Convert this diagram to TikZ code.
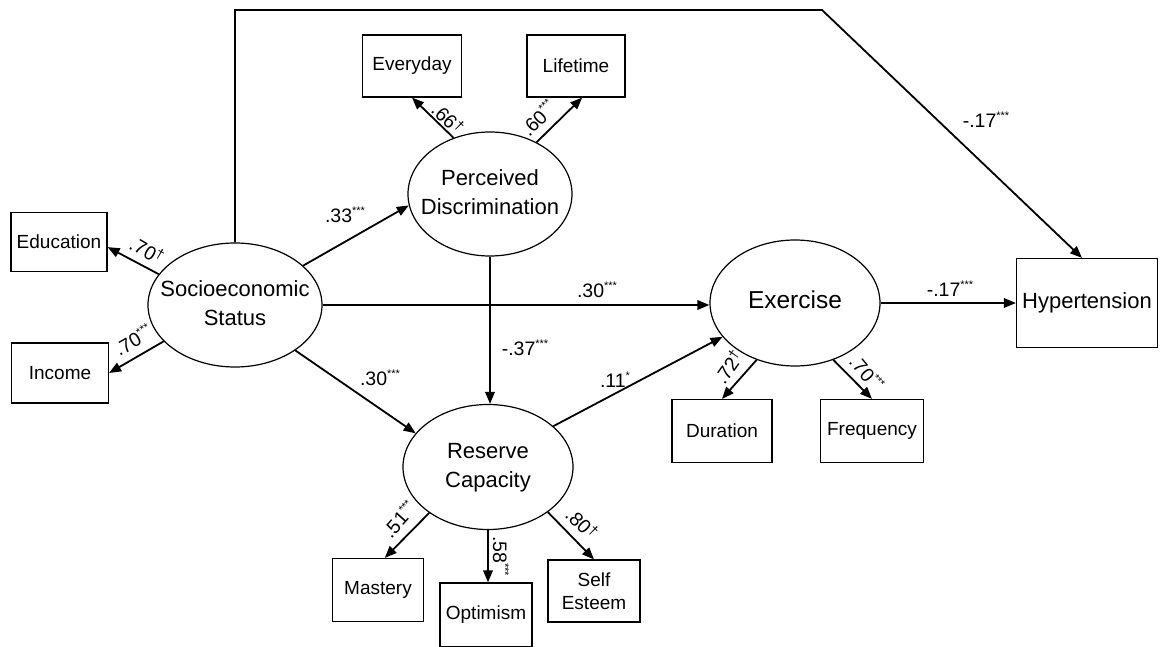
\documentclass[tikz,border=0pt]{standalone}
\usepackage{fontspec}
\setmainfont{Liberation Sans}
\usetikzlibrary{shapes.geometric,arrows.meta}
\newcommand{\sigs}[1]{\raisebox{0.42em}{\fontsize{11}{11}\selectfont #1}}
\newcommand{\sigd}{\raisebox{0.3em}{\fontsize{14}{14}\selectfont †}}
\newcommand{\ctr}[1]{\makebox[0pt]{\begin{tabular}{@{}c@{}}#1\end{tabular}}}
\begin{document}
\begin{tikzpicture}[x=1pt, y=-1pt, line join=miter, >={Triangle[length=12pt,width=9.5pt]},
	latent/.style={draw, ellipse, line width=1.2pt, inner sep=0pt, font=\fontsize{22}{29}\selectfont},
	indic/.style={draw, rectangle, line width=1.2pt, inner sep=0pt, align=center, font=\fontsize{19}{23}\selectfont},
	link/.style={->, line width=1.8pt},
	coef/.style={inner sep=0pt, font=\fontsize{19.5}{22}\selectfont}]
	\useasboundingbox (0,0) rectangle (1160,647);
	\node[latent, minimum width=174pt, minimum height=124pt] (ses) at (235,305) {\ctr{Socioeconomic\\Status}};
	\node[latent, minimum width=164pt, minimum height=124pt] (pd) at (490,194) {\ctr{Perceived\\Discrimination}};
	\node[latent, minimum width=170pt, minimum height=125pt] (rc) at (488,467) {\ctr{Reserve\\Capacity}};
	\node[latent, minimum width=170pt, minimum height=126pt, font=\fontsize{24.5}{29}\selectfont] (ex) at (795,303) {\ctr{Exercise}};
	\node[indic, minimum width=96pt, minimum height=59pt] (edu) at (59,242) {Education};
	\node[indic, minimum width=97pt, minimum height=60pt] (inc) at (60,373) {Income};
	\node[indic, minimum width=99pt, minimum height=62pt] (ev) at (412,66) {Everyday};
	\node[indic, minimum width=98pt, minimum height=62pt] (lt) at (576,66) {Lifetime};
	\node[indic, minimum width=91pt, minimum height=63pt] (ms) at (378,590) {Mastery};
	\node[indic, minimum width=92pt, minimum height=64pt] (op) at (486,615) {Optimism};
	\node[indic, minimum width=92pt, minimum height=62pt] (se) at (594,591) {Self\\Esteem};
	\node[indic, minimum width=100pt, minimum height=63pt] (du) at (722,431) {Duration};
	\node[indic, minimum width=103pt, minimum height=63pt] (fq) at (872,431) {Frequency};
	\node[indic, minimum width=141pt, minimum height=89pt, font=\fontsize{22}{26}\selectfont] (hyp) at (1087,303) {Hypertension};
	\coordinate (topl) at (235,10);
	\coordinate (topr) at (822,10);
	\draw[link] (ses.north) -- (topl) -- (topr) -- ([xshift=-5pt]hyp.north);
	\draw[link] (ses.158) -- (edu.-6);
	\draw[link] (ses.207) -- (inc.east);
	\draw[link] (ses.30) -- (pd.188);
	\draw[link] (ses.east) -- (ses.east -| ex.west);
	\draw[link] (ses.-37) -- (rc.155);
	\draw[link] (pd.123) -- (ev.south);
	\draw[link] (pd.48) -- (lt.-79);
	\draw[link] (pd.south) -- (pd.south |- rc.north);
	\draw[link] (rc.32) -- (ex.205);
	\draw[link] (rc.218) -- (ms.78);
	\draw[link] (rc.south) -- (rc.south |- op.north);
	\draw[link] (rc.-37) -- (se.north);
	\draw[link] (ex.east) -- (ex.east -| hyp.west);
	\draw[link] (ex.236) -- (du.north);
	\draw[link] (ex.-56) -- (fq.north);
	\node[coef, rotate=-30] (cedu) at (147,250) {.70\sigd};
	\node[coef, rotate=30] (cinc) at (133,340) {.70\sigs{***}};
	\node[coef] (cpd) at (345,215) {.33\sigs{***}};
	\node[coef] (cex) at (597,290) {.30\sigs{***}};
	\node[coef] (crc) at (380,378) {.30\sigs{***}};
	\node[coef] (cdis) at (525,348) {-.37\sigs{***}};
	\node[coef] (cres) at (615,380) {.11\sigs{*}};
	\node[coef] (chyp) at (950,289) {-.17\sigs{***}};
	\node[coef] (cdir) at (986,120) {-.17\sigs{***}};
	\node[coef, rotate=-45] (cev) at (448,118) {.66\sigd};
	\node[coef, rotate=45] (clt) at (538,118) {.60\sigs{***}};
	\node[coef, rotate=55] (cdu) at (728,367) {.72\sigd};
	\node[coef, rotate=-50] (cfq) at (867,373) {.70\sigs{***}};
	\node[coef, rotate=48] (cms) at (399,519) {.51\sigs{***}};
	\node[coef, rotate=-90] (cop) at (501,556) {.58\sigs{***}};
	\node[coef, rotate=-45] (cse) at (582,523) {.80\sigd};
\end{tikzpicture}
\end{document}
